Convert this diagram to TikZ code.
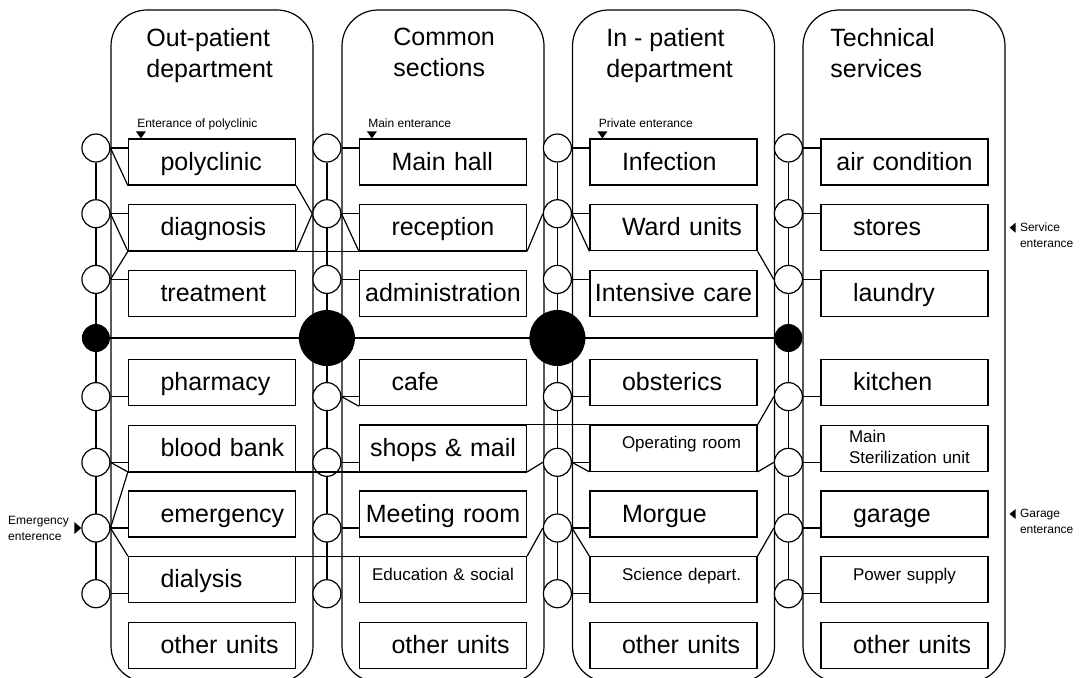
\documentclass[tikz,border=0pt]{standalone}
\usepackage{fontspec}
\setmainfont{Liberation Sans}
\usetikzlibrary{
    positioning,
    calc,
    backgrounds
}
\hyphenpenalty=10000
\exhyphenpenalty=10000

\begin{document}
\begin{tikzpicture}[
    x=0.5pt,
    y=-0.5pt,
    node distance=9.25pt,
    frame_style/.style={
        draw,
        line width=0.6pt,
        rounded corners=18pt,
        minimum width=101pt,
        minimum height=336pt,
        inner sep=0pt
    },
    title_style/.style={
        anchor=north west,
        align=left,
        inner sep=0pt,
        font=\fontsize{12.5}{15.5}\selectfont
    },
    unit_style/.style={
        draw,
        line width=0.6pt,
        minimum width=83.5pt,
        minimum height=23pt,
        text width=51.5pt,
        text height=10.5pt,
        text depth=2.5pt,
        inner xsep=16pt,
        inner ysep=0pt,
        align=left,
        font=\fontsize{12.5}{14}\selectfont
    },
    wide/.style={
        text width=79.5pt,
        inner xsep=2pt,
        align=center
    },
    small_text/.style={
        text height=7pt,
        text depth=6.5pt,
        font=\fontsize{8.5}{10.5}\selectfont
    },
    stop_style/.style={
        circle,
        draw,
        line width=0.6pt,
        fill=white,
        minimum size=14pt,
        inner sep=0pt
    },
    hub_style/.style={
        circle,
        fill=black,
        minimum size=28pt,
        inner sep=0pt
    },
    entry_style/.style={
        inner sep=0pt,
        align=left,
        font=\fontsize{6}{8}\selectfont
    },
    edge_style/.style={
        draw=black,
        line width=0.6pt
    }
]
\useasboundingbox (0,0) rectangle (1080,677);
\clip (0,0) rectangle (1080,677);

% --- Department frames ---
\node[frame_style] (opdframe) at (212,346) {};
\node[frame_style] (comframe) at (443,346) {};
\node[frame_style] (ipdframe) at (673.5,346) {};
\node[frame_style] (tecframe) at (904,346) {};

\node[title_style] (opdtitle) at (146,28) {Out-patient\\department};
\node[title_style] (comtitle) at (393,28) {Common\\sections};
\node[title_style] (ipdtitle) at (606,28) {In - patient\\department};
\node[title_style] (tectitle) at (830,28) {Technical\\services};

% --- Out-patient units ---
\node[unit_style] (poly) at (212,162) {polyclinic};
\node[unit_style, below=of poly] (diag) {diagnosis};
\node[unit_style, below=of diag] (treat) {treatment};
\node[unit_style, below=21pt of treat] (pharm) {pharmacy};
\node[unit_style, below=of pharm] (blood) {blood~bank};
\node[unit_style, below=of blood] (emerg) {emergency};
\node[unit_style, below=of emerg] (dial) {dialysis};
\node[unit_style, below=of dial] (oothers) {other~units};

% --- Common units ---
\node[unit_style] (mainhall) at (443,162) {Main~hall};
\node[unit_style, below=of mainhall] (recep) {reception};
\node[unit_style, wide, below=of recep] (admin) {administration};
\node[unit_style, below=21pt of admin] (cafe) {cafe};
\node[unit_style, wide, below=of cafe] (shops) {shops \& mail};
\node[unit_style, wide, below=of shops] (meeting) {Meeting room};
\node[unit_style, wide, small_text, below=of meeting] (educ) {Education \& social};
\node[unit_style, below=of educ] (cothers) {other~units};

% --- In-patient units ---
\node[unit_style] (infect) at (673.5,162) {Infection};
\node[unit_style, below=of infect] (ward) {Ward~units};
\node[unit_style, wide, below=of ward] (icu) {Intensive care};
\node[unit_style, below=21pt of icu] (obst) {obsterics};
\node[unit_style, small_text, below=of obst] (oper) {Operating~room};
\node[unit_style, below=of oper] (morgue) {Morgue};
\node[unit_style, small_text, below=of morgue] (science) {Science~depart.};
\node[unit_style, below=of science] (iothers) {other~units};

% --- Technical units ---
\node[unit_style, wide] (aircond) at (904.5,162) {air condition};
\node[unit_style, below=of aircond] (stores) {stores};
\node[unit_style, below=of stores] (laundry) {laundry};
\node[unit_style, below=21pt of laundry] (kitchen) {kitchen};
\node[unit_style, small_text, text height=7pt, text depth=13pt, inner xsep=14pt, text width=55.5pt, below=of kitchen] (steril) {Main\\Sterilization~unit};
\node[unit_style, below=of steril] (garage) {garage};
\node[unit_style, small_text, below=of garage] (power) {Power~supply};
\node[unit_style, below=of power] (tothers) {other~units};

% --- Stops ---
\node[stop_style] (oc1) at ([xshift=-16pt, yshift=7pt]poly.west) {};
\node[stop_style] (oc2) at ([xshift=-16pt, yshift=7pt]diag.west) {};
\node[stop_style] (oc3) at ([xshift=-16pt, yshift=7pt]treat.west) {};
\node[stop_style] (oc4) at ([xshift=-16pt, yshift=-7pt]pharm.west) {};
\node[stop_style] (oc5) at ([xshift=-16pt, yshift=-7pt]blood.west) {};
\node[stop_style] (oc6) at ([xshift=-16pt, yshift=-7pt]emerg.west) {};
\node[stop_style] (oc7) at ([xshift=-16pt, yshift=-7pt]dial.west) {};

\node[stop_style] (cc1) at ([xshift=-16pt, yshift=7pt]mainhall.west) {};
\node[stop_style] (cc2) at ([xshift=-16pt, yshift=7pt]recep.west) {};
\node[stop_style] (cc3) at ([xshift=-16pt, yshift=7pt]admin.west) {};
\node[stop_style] (cc4) at ([xshift=-16pt, yshift=-7pt]cafe.west) {};
\node[stop_style] (cc5) at ([xshift=-16pt, yshift=-7pt]shops.west) {};
\node[stop_style] (cc6) at ([xshift=-16pt, yshift=-7pt]meeting.west) {};
\node[stop_style] (cc7) at ([xshift=-16pt, yshift=-7pt]educ.west) {};

\node[stop_style] (ic1) at ([xshift=-16pt, yshift=7pt]infect.west) {};
\node[stop_style] (ic2) at ([xshift=-16pt, yshift=7pt]ward.west) {};
\node[stop_style] (ic3) at ([xshift=-16pt, yshift=7pt]icu.west) {};
\node[stop_style] (ic4) at ([xshift=-16pt, yshift=-7pt]obst.west) {};
\node[stop_style] (ic5) at ([xshift=-16pt, yshift=-7pt]oper.west) {};
\node[stop_style] (ic6) at ([xshift=-16pt, yshift=-7pt]morgue.west) {};
\node[stop_style] (ic7) at ([xshift=-16pt, yshift=-7pt]science.west) {};

\node[stop_style] (tc1) at ([xshift=-16pt, yshift=7pt]aircond.west) {};
\node[stop_style] (tc2) at ([xshift=-16pt, yshift=7pt]stores.west) {};
\node[stop_style] (tc3) at ([xshift=-16pt, yshift=7pt]laundry.west) {};
\node[stop_style] (tc4) at ([xshift=-16pt, yshift=-7pt]kitchen.west) {};
\node[stop_style] (tc5) at ([xshift=-16pt, yshift=-7pt]steril.west) {};
\node[stop_style] (tc6) at ([xshift=-16pt, yshift=-7pt]garage.west) {};
\node[stop_style] (tc7) at ([xshift=-16pt, yshift=-7pt]power.west) {};

% Hubs on the main corridor
\node[hub_style, minimum size=14pt] (ohub) at ($(oc3)!0.5!(oc4)$) {};
\node[hub_style] (chub) at ($(cc3)!0.5!(cc4)$) {};
\node[hub_style] (ihub) at ($(ic3)!0.5!(ic4)$) {};
\node[hub_style, minimum size=14pt] (thub) at ($(tc3)!0.5!(tc4)$) {};

% Corridors behind the stops
\begin{scope}[on background layer]
\draw[edge_style] (oc1) -- (oc7);
\draw[edge_style] (cc1) -- (cc7);
\draw[edge_style] (ic1) -- (ic7);
\draw[edge_style] (tc1) -- (tc7);
\draw[edge_style] (ohub) -- (thub);
\end{scope}

% --- Stop to unit ---
\draw[edge_style] (oc1.east) -- (oc1.east -| poly.west);
\draw[edge_style] (oc2.east) -- (oc2.east -| diag.west);
\draw[edge_style] (oc3.east) -- (oc3.east -| treat.west);
\draw[edge_style] (oc4.east) -- (oc4.east -| pharm.west);
\draw[edge_style] (oc5.east) -- (oc5.east -| blood.west);
\draw[edge_style] (oc6.east) -- (oc6.east -| emerg.west);
\draw[edge_style] (oc7.east) -- (oc7.east -| dial.west);

\draw[edge_style] (cc1.east) -- (cc1.east -| mainhall.west);
\draw[edge_style] (cc2.east) -- (cc2.east -| recep.west);
\draw[edge_style] (cc3.east) -- (cc3.east -| admin.west);
\draw[edge_style] (cc4.east) -- (cc4.east -| cafe.west);
\draw[edge_style] (cc5.east) -- (cc5.east -| shops.west);
\draw[edge_style] (cc6.east) -- (cc6.east -| meeting.west);

\draw[edge_style] (ic1.east) -- (ic1.east -| infect.west);
\draw[edge_style] (ic2.east) -- (ic2.east -| ward.west);
\draw[edge_style] (ic3.east) -- (ic3.east -| icu.west);
\draw[edge_style] (ic4.east) -- (ic4.east -| obst.west);
\draw[edge_style] (ic5.east) -- (ic5.east -| oper.west);
\draw[edge_style] (ic6.east) -- (ic6.east -| morgue.west);
\draw[edge_style] (ic7.east) -- (ic7.east -| science.west);

\draw[edge_style] (tc1.east) -- (tc1.east -| aircond.west);
\draw[edge_style] (tc2.east) -- (tc2.east -| stores.west);
\draw[edge_style] (tc3.east) -- (tc3.east -| laundry.west);
\draw[edge_style] (tc4.east) -- (tc4.east -| kitchen.west);
\draw[edge_style] (tc5.east) -- (tc5.east -| steril.west);
\draw[edge_style] (tc6.east) -- (tc6.east -| garage.west);
\draw[edge_style] (tc7.east) -- (tc7.east -| power.west);

% --- Cross links, upper wing ---
\draw[edge_style] (oc1.east) -- (poly.south west);
\draw[edge_style] (oc2.east) -- (diag.south west);
\draw[edge_style] (oc3.east) -- (diag.south west);
\draw[edge_style] (poly.south east) -- (cc2.west);
\draw[edge_style] (diag.south east) -- (cc2.west);
\draw[edge_style] (diag.south west) -- (recep.south east);
\draw[edge_style] (cc2.east) -- (recep.south west);
\draw[edge_style] (recep.south east) -- (ic2.west);
\draw[edge_style] (ic2.east) -- (ward.south west);
\draw[edge_style] (ward.south east) -- (tc3.west);

% --- Cross links, lower wing ---
\draw[edge_style] (oc5.east) -- (blood.south west);
\draw[edge_style] (oc6.east) -- (blood.south west);
\draw[edge_style] (oc6.east) -- (dial.north west);
\draw[edge_style] (blood.south west) -- (shops.south east);
\draw[edge_style] (dial.north west) -- (educ.north east);
\draw[edge_style] (cc4.east) -- (cafe.south west);
\draw[edge_style] (shops.south east) -- (ic5.west);
\draw[edge_style] (educ.north east) -- (ic6.west);
\draw[edge_style] (shops.north west) -- (oper.north east);
\draw[edge_style] (oper.north east) -- (tc4.west);
\draw[edge_style] (ic5.east) -- (oper.south west);
\draw[edge_style] (oper.south east) -- (tc5.west);
\draw[edge_style] (ic6.east) -- (science.north west);
\draw[edge_style] (science.north east) -- (tc6.west);

% --- Entrances ---
\node[entry_style, anchor=base west] (polyin) at ([xshift=4.5pt, yshift=5.5pt]poly.north west) {Enterance of polyclinic};
\fill ([xshift=6.5pt]poly.north west) -- ++(-5,-7) -- ++(10,0) -- cycle;
\node[entry_style, anchor=base west] (mainin) at ([xshift=4.5pt, yshift=5.5pt]mainhall.north west) {Main enterance};
\fill ([xshift=6.5pt]mainhall.north west) -- ++(-5,-7) -- ++(10,0) -- cycle;
\node[entry_style, anchor=base west] (privin) at ([xshift=4.5pt, yshift=5.5pt]infect.north west) {Private enterance};
\fill ([xshift=6.5pt]infect.north west) -- ++(-5,-7) -- ++(10,0) -- cycle;

\node[entry_style, anchor=east] (emergin) at ([xshift=-6pt]oc6.west) {Emergency\\enterence};
\fill (oc6.west) -- ++(-7,-6) -- ++(0,12) -- cycle;

\node[entry_style, anchor=west] (servin) at ([xshift=15.5pt, yshift=-3.75pt]stores.east) {Service\\enterance};
\fill ([xshift=10.5pt]stores.east) -- ++(6,-5) -- ++(0,10) -- cycle;
\node[entry_style, anchor=west] (garagein) at ([xshift=15.5pt, yshift=-3.75pt]garage.east) {Garage\\enterance};
\fill ([xshift=10.5pt]garage.east) -- ++(6,-5) -- ++(0,10) -- cycle;

\end{tikzpicture}
\end{document}
